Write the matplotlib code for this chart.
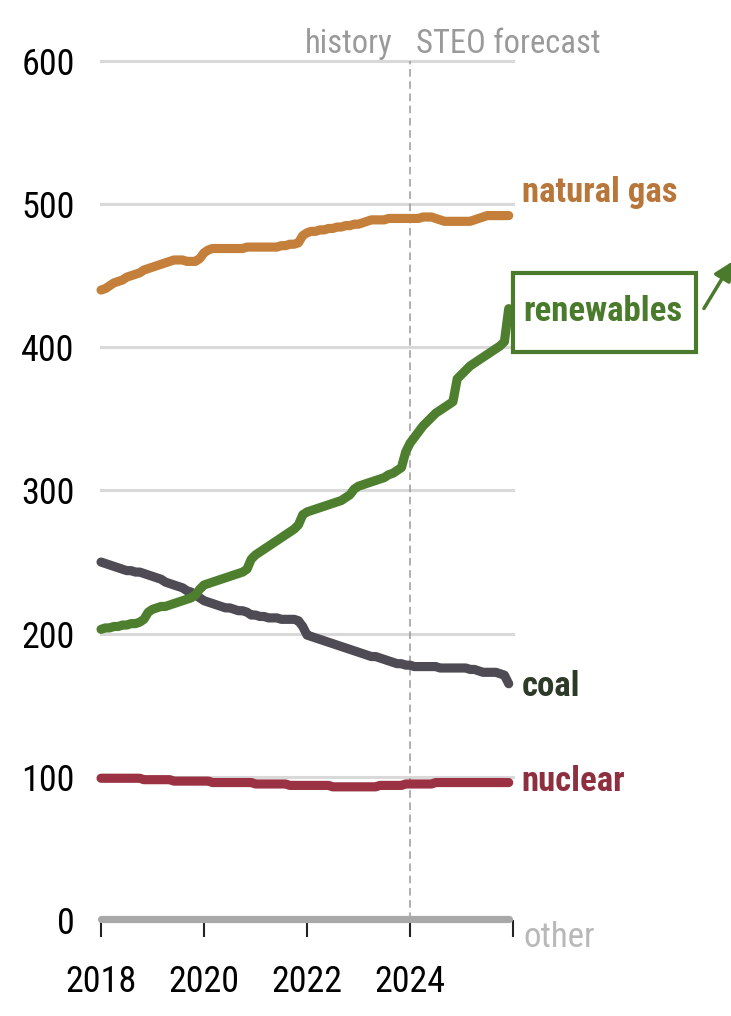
import numpy as np
import pandas as pd
import matplotlib
matplotlib.use("Agg")
import matplotlib.pyplot as plt
from matplotlib.patches import Rectangle

# monthly generating capacity, GW, Jan 2018 - Dec 2025 (history to 2023, STEO forecast after)
months = pd.date_range("2018-01-01", "2025-12-01", freq="MS")

natural_gas = [
    440, 441, 443, 445, 446, 447, 449, 450, 451, 452, 454, 455,
    456, 457, 458, 459, 460, 461, 461, 461, 460, 460, 460, 462,
    466, 468, 469, 469, 469, 469, 469, 469, 469, 469, 470, 470,
    470, 470, 470, 470, 470, 470, 471, 471, 472, 472, 473, 478,
    480, 481, 481, 482, 482, 483, 483, 484, 484, 485, 485, 486,
    486, 487, 488, 489, 489, 489, 489, 490, 490, 490, 490, 490,
    490, 490, 490, 491, 491, 491, 490, 489, 488, 488, 488, 488,
    488, 488, 488, 489, 490, 491, 492, 492, 492, 492, 492, 492,
]
renewables = [
    203, 204, 204, 205, 205, 206, 206, 207, 207, 208, 210, 215,
    217, 218, 219, 219, 220, 221, 222, 223, 224, 225, 227, 231,
    234, 235, 236, 237, 238, 239, 240, 241, 242, 243, 245, 252,
    255, 257, 259, 261, 263, 265, 267, 269, 271, 273, 276, 283,
    285, 286, 287, 288, 289, 290, 291, 292, 293, 295, 297, 301,
    303, 304, 305, 306, 307, 308, 309, 311, 312, 314, 316, 327,
    333, 337, 341, 345, 348, 351, 354, 356, 358, 360, 362, 378,
    381, 384, 387, 389, 391, 393, 395, 397, 399, 401, 404, 427,
]
coal = [
    250, 249, 248, 247, 246, 245, 244, 244, 243, 243, 242, 241,
    240, 239, 238, 236, 235, 234, 233, 232, 230, 229, 227, 225,
    223, 222, 221, 220, 219, 218, 218, 217, 216, 216, 215, 213,
    213, 212, 212, 211, 211, 211, 210, 210, 210, 210, 209, 205,
    199, 198, 197, 196, 195, 194, 193, 192, 191, 190, 189, 188,
    187, 186, 185, 184, 184, 183, 182, 181, 180, 179, 179, 178,
    178, 177, 177, 177, 177, 177, 177, 176, 176, 176, 176, 176,
    176, 176, 175, 175, 174, 173, 173, 173, 173, 172, 171, 165,
]
nuclear = [
    99, 99, 99, 99, 99, 99, 99, 99, 99, 99, 98, 98,
    98, 98, 98, 98, 98, 97, 97, 97, 97, 97, 97, 97,
    97, 97, 96, 96, 96, 96, 96, 96, 96, 96, 96, 96,
    95, 95, 95, 95, 95, 95, 95, 95, 94, 94, 94, 94,
    94, 94, 94, 94, 94, 94, 93, 93, 93, 93, 93, 93,
    93, 93, 93, 93, 93, 94, 94, 94, 94, 94, 94, 95,
    95, 95, 95, 95, 95, 95, 96, 96, 96, 96, 96, 96,
    96, 96, 96, 96, 96, 96, 96, 96, 96, 96, 96, 96,
]
other = [1] * 96

series = [
    # name, values, line colour, label colour, label y
    ("other", other, "#a8a8a8", "#b8b8b8", -12),
    ("nuclear", nuclear, "#9a3244", "#8e2f40", 97),
    ("coal", coal, "#4e4b54", "#2e3a28", 163),
    ("renewables", renewables, "#4e7f2f", "#4a7a2c", 425),
    ("natural gas", natural_gas, "#c47f3a", "#b8763a", 508),
]

year_ticks = [2018, 2020, 2022, 2024, 2026]
year_labels = ["2018", "2020", "2022", "2024", ""]
gw_ticks = [0, 100, 200, 300, 400, 500, 600]
forecast_start = 2024

FONT = ["Roboto Condensed", "DejaVu Sans"]
plt.rcParams["font.family"] = FONT

x = months.year + (months.month - 1) / 12

fig = plt.figure(figsize=(7.31, 10.16), dpi=100)
ax = fig.add_axes([0.1382, 0.0945, 0.5636, 0.8455])
ax.set_xlim(2018, 2026)
ax.set_ylim(0, 600)

for g in gw_ticks[1:]:
    ax.axhline(g, color="#d9d9d9", lw=2.2, zorder=1, clip_on=False)
ax.axvline(forecast_start, color="#9a9a9a", lw=1.1, ls=(0, (5, 3)), zorder=1.5)

for name, vals, col, tcol, ty in series:
    lw = 5.2 if name == "other" else 6.6
    ax.plot(x, vals, color=col, lw=lw, solid_capstyle="round", solid_joinstyle="round",
            zorder=3, clip_on=False)
    if name == "other":
        ax.text(2026.2, ty, name, color=tcol, fontsize=25, va="center", ha="left")
    elif name != "renewables":
        ax.text(2026.17, ty, name, color=tcol, fontsize=25, fontweight="bold",
                va="center", ha="left")

# boxed renewables label with an arrow running off to the right
ax.add_patch(Rectangle((2026.0, 397), 3.55, 55, fill=False, ec="#4a7a2c", lw=3,
                       clip_on=False, zorder=4))
ax.text(2026.19, 425, "renewables", color="#4a7a2c", fontsize=25, fontweight="bold",
        va="center", ha="left")
ax.annotate("", xy=(1.004, 0.745), xytext=(0.961, 0.694), xycoords="figure fraction",
            arrowprops=dict(arrowstyle="-|>", color="#4a7a2c", lw=2.5, mutation_scale=28))

ax.text(2023.67, 601, "history", color="#9a9a9a", fontsize=23.5, ha="right", va="bottom")
ax.text(2024.12, 601, "STEO forecast", color="#9a9a9a", fontsize=23.5, ha="left", va="bottom")

ax.set_xticks(year_ticks)
ax.set_xticklabels(year_labels)
ax.set_yticks(gw_ticks)
ax.tick_params(axis="x", length=12, width=1.5, color="#222222", direction="out", pad=20,
               labelsize=26)
ax.tick_params(axis="y", length=0, pad=19, labelsize=26)
for s in ax.spines.values():
    s.set_visible(False)

fig.savefig("out.png", dpi=100)
